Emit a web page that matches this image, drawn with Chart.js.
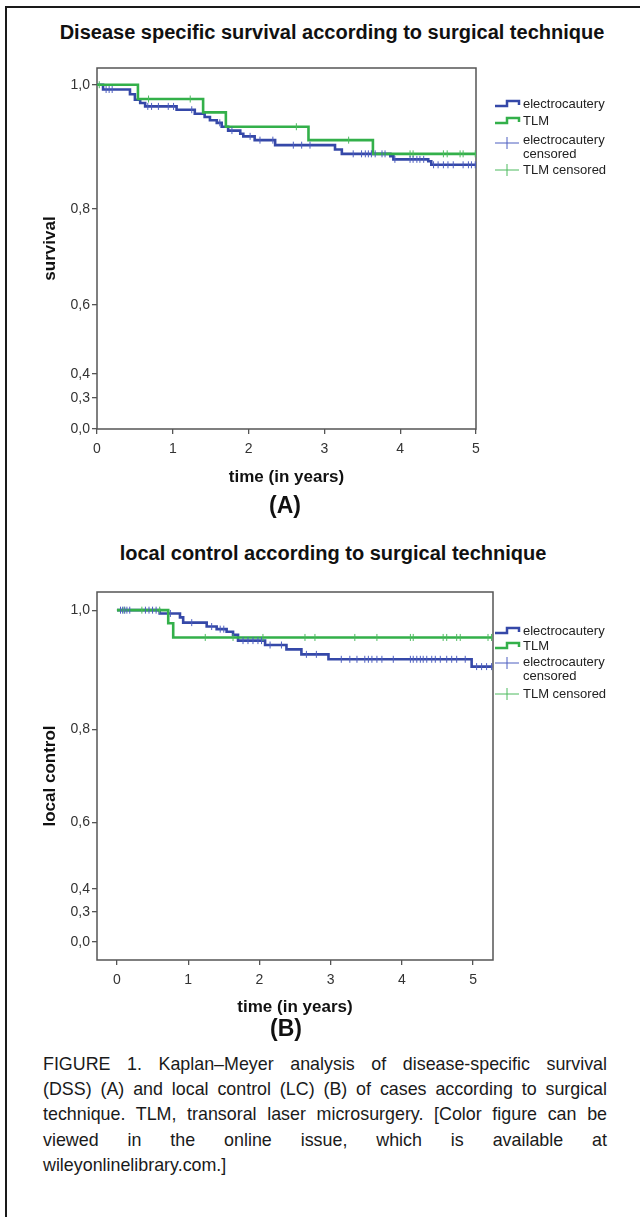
<!DOCTYPE html>
<html>
<head>
<meta charset="utf-8">
<script src="https://cdn.jsdelivr.net/npm/chart.js@4.4.1/dist/chart.umd.min.js"></script>
<style>
  html, body { margin: 0; padding: 0; background: #fff; }
  body { width: 640px; height: 1217px; position: relative; overflow: hidden;
         font-family: "Liberation Sans", Arial, sans-serif; color: #111; }
  .rule-top { position: absolute; left: 5px; top: 6px; width: 635px; height: 2px; background: #1a1a1a; }
  .rule-left { position: absolute; left: 5px; top: 6px; width: 2px; height: 1211px; background: #1a1a1a; }
  .heading { position: absolute; transform: translateX(-50%); white-space: nowrap;
             font-weight: bold; font-size: 20px; line-height: 24px; }
  .panel { position: absolute; transform: translateX(-50%); white-space: nowrap;
           font-weight: bold; font-size: 23px; line-height: 26px; }
  canvas { position: absolute; left: 0; }
  #caption { position: absolute; left: 43px; width: 600px; top: 1051px;
             transform: scaleX(0.94); transform-origin: 0 0;
             font-family: "Liberation Sans", Arial, sans-serif;
             font-size: 19px; line-height: 25.2px; color: #1a1a1a; }
  #caption div { text-align: justify; text-align-last: justify; }
  #caption div:last-child { text-align-last: left; }
</style>
</head>
<body>
<div class="rule-top"></div>
<div class="rule-left"></div>

<div class="heading" style="left:332px; top:20px;">Disease specific survival according to surgical technique</div>
<canvas id="dss" width="607" height="450" style="top:50px;"></canvas>
<div class="panel" style="left:285px; top:492px;">(A)</div>

<div class="heading" style="left:333px; top:541px;">local control according to surgical technique</div>
<canvas id="lc" width="607" height="460" style="top:570px;"></canvas>
<div class="panel" style="left:286px; top:1015px;">(B)</div>

<div id="caption">
  <div>FIGURE 1. Kaplan–Meyer analysis of disease-specific survival</div>
  <div>(DSS) (A) and local control (LC) (B) of cases according to surgical</div>
  <div>technique. TLM, transoral laser microsurgery. [Color figure can be</div>
  <div>viewed in the online issue, which is available at</div>
  <div>wileyonlinelibrary.com.]</div>
</div>

<script>
// ---- data (time in years) ----
const xTicks = [0, 1, 2, 3, 4, 5];
const yTicks = [0, 0.3, 0.4, 0.6, 0.8, 1.0];

// (A) disease specific survival
const dssElectroTime = [0, 0.08, 0.435, 0.50, 0.57, 0.635, 1.05, 1.29, 1.42, 1.49, 1.58, 1.645, 1.73, 1.89, 1.93, 2.08, 2.35, 3.14, 3.23, 3.87, 3.91, 4.37, 4.41, 5.0];
const dssElectroSurv = [1.0, 0.993, 0.986, 0.978, 0.973, 0.968, 0.963, 0.957, 0.952, 0.947, 0.943, 0.937, 0.931, 0.926, 0.922, 0.916, 0.908, 0.901, 0.894, 0.890, 0.885, 0.882, 0.876, 0.876];
const dssElectroCensored = [0.12, 0.16, 0.20, 0.67, 0.72, 0.81, 0.94, 1.01, 1.25, 1.62, 1.78, 2.02, 2.15, 2.32, 2.59, 2.70, 2.81,
  3.38, 3.49, 3.54, 3.58, 3.62, 3.67, 3.76, 3.80, 3.93, 4.13, 4.17, 4.22, 4.26, 4.31, 4.44, 4.50, 4.57, 4.63, 4.70, 4.83, 4.90, 4.94, 4.99];
const dssTlmTime = [0, 0.54, 1.40, 1.70, 2.79, 3.64, 5.0];
const dssTlmSurv = [1.0, 0.979, 0.959, 0.937, 0.916, 0.894, 0.894];
const dssTlmCensored = [0.03, 0.68, 1.23, 2.63, 3.32, 4.13, 4.17, 4.57, 4.62, 4.79, 4.83, 4.99];

// (B) local control
const lcElectroTime = [0, 0.60, 0.885, 0.93, 1.26, 1.40, 1.54, 1.63, 1.70, 2.08, 2.38, 2.59, 2.97, 4.98, 5.27];
const lcElectroCtrl = [1.0, 0.995, 0.989, 0.981, 0.975, 0.971, 0.967, 0.962, 0.953, 0.946, 0.939, 0.931, 0.923, 0.911, 0.911];
const lcElectroCensored = [0.05, 0.08, 0.11, 0.14, 0.18, 0.40, 0.45, 0.50, 0.55, 0.75, 1.05, 1.33, 1.45, 1.50, 1.77, 1.84, 1.91, 1.98, 2.03,
  2.15, 2.31, 2.66, 2.80, 3.15, 3.27, 3.37, 3.48, 3.53, 3.58, 3.65, 3.72, 3.88, 4.12, 4.16, 4.21, 4.26, 4.30, 4.35, 4.42, 4.47,
  4.54, 4.63, 4.70, 4.77, 4.89, 5.05, 5.12, 5.19, 5.26];
const lcTlmTime = [0, 0.72, 0.79, 5.27];
const lcTlmCtrl = [1.0, 0.980, 0.958, 0.958];
const lcTlmCensored = [0.10, 0.35, 0.60, 1.24, 1.63, 2.05, 2.64, 2.78, 3.34, 3.65, 4.12, 4.16, 4.58, 4.63, 4.77, 4.82, 5.21, 5.26];

const BLUE = '#3548a8', BLUE_TICK = '#4d5ec0';
const GREEN = '#33b04a', GREEN_TICK = '#4cba5e';
const FONT = '"Liberation Sans", Arial, sans-serif';

// SPSS-style axis: pixel distance grows with the square of the value
class SquareScale extends Chart.LinearScale {
  sq(v) { return v < 0 ? -v * v : v * v; }
  getPixelForValue(value) {
    if (value === null || isNaN(value)) return NaN;
    const a = this.sq(this.min), b = this.sq(this.max);
    return this.getPixelForDecimal((this.sq(value) - a) / (b - a));
  }
  getValueForPixel(pixel) {
    const a = this.sq(this.min), b = this.sq(this.max);
    const t = a + this.getDecimalForPixel(pixel) * (b - a);
    return t < 0 ? -Math.sqrt(-t) : Math.sqrt(t);
  }
}
SquareScale.id = 'square';
SquareScale.defaults = {};
Chart.register(SquareScale);

function steps(times, vals) {
  return times.map((t, i) => ({ x: t, y: vals[i] }));
}
// a censored case sits on the curve at the level in force at its time
function onCurve(censored, times, vals) {
  return censored.map(t => {
    let k = 0;
    while (k + 1 < times.length && times[k + 1] <= t) k++;
    return { x: t, y: vals[k] };
  });
}

const plotFrame = {
  id: 'plotFrame',
  beforeDatasetsDraw(chart) {
    const { ctx, chartArea: a } = chart;
    ctx.save();
    ctx.strokeStyle = '#555';
    ctx.lineWidth = 1.5;
    ctx.strokeRect(a.left, a.top, a.right - a.left, a.bottom - a.top);
    ctx.restore();
  }
};

const kmLegend = {
  id: 'kmLegend',
  afterDraw(chart, args, opts) {
    const { ctx, chartArea } = chart;
    const x0 = chartArea.right + opts.dx;
    ctx.save();
    ctx.font = '13px ' + FONT;
    ctx.textBaseline = 'middle';
    opts.items.forEach(item => {
      const y = chartArea.top + item.dy;
      ctx.beginPath();
      ctx.strokeStyle = item.color;
      if (item.kind === 'step') {
        ctx.lineWidth = 2.5;
        ctx.moveTo(x0, y + 2); ctx.lineTo(x0 + 12, y + 2);
        ctx.lineTo(x0 + 12, y - 3); ctx.lineTo(x0 + 24, y - 3);
        ctx.lineTo(x0 + 24, y + 1);
      } else {
        const cy = y + item.markDy;
        ctx.lineWidth = 1;
        ctx.moveTo(x0, cy); ctx.lineTo(x0 + 24, cy);
        ctx.moveTo(x0 + 12, cy - 6); ctx.lineTo(x0 + 12, cy + 6);
      }
      ctx.stroke();
      ctx.fillStyle = '#222';
      item.text.forEach((t, i) => ctx.fillText(t, x0 + 28, y + i * 14.5));
    });
    ctx.restore();
  }
};

function makeKM(id, c) {
  return new Chart(document.getElementById(id), {
    type: 'scatter',
    data: {
      datasets: [
        { label: 'electrocautery', data: steps(c.eT, c.eV), showLine: true, stepped: 'before',
          borderColor: BLUE, borderWidth: 2.6, pointRadius: 0, order: 2 },
        { label: 'TLM', data: steps(c.tT, c.tV), showLine: true, stepped: 'before',
          borderColor: GREEN, borderWidth: 2.6, pointRadius: 0, order: 1 },
        { label: 'electrocautery censored', data: onCurve(c.eC, c.eT, c.eV), showLine: false,
          pointStyle: 'line', rotation: 90, pointRadius: 3.5, borderWidth: 1, borderColor: BLUE_TICK, order: 0 },
        { label: 'TLM censored', data: onCurve(c.tC, c.tT, c.tV), showLine: false,
          pointStyle: 'line', rotation: 90, pointRadius: 3.5, borderWidth: 1, borderColor: GREEN_TICK, order: 0 }
      ]
    },
    options: {
      responsive: false,
      animation: false,
      layout: { padding: c.padding },
      plugins: {
        legend: { display: false },
        tooltip: { enabled: false },
        kmLegend: { dx: c.legendDx, items: c.legend }
      },
      scales: {
        x: {
          type: 'linear', min: c.xMin, max: c.xMax,
          afterBuildTicks: s => { s.ticks = xTicks.map(v => ({ value: v })); },
          afterFit: s => { s.height = 60; },
          border: { display: false },
          grid: { drawOnChartArea: false, drawTicks: true, tickLength: 5, color: '#555', lineWidth: 1.3 },
          ticks: { color: '#333', padding: 7, font: { family: FONT, size: 14 }, callback: v => String(v) },
          title: { display: true, text: 'time (in years)', color: '#111',
                   font: { family: FONT, size: 17, weight: 'bold' }, padding: { bottom: c.xTitlePad } }
        },
        y: {
          type: 'square', min: c.yMin, max: c.yMax,
          afterBuildTicks: s => { s.ticks = yTicks.map(v => ({ value: v })); },
          afterFit: s => { s.width = 97; },
          border: { display: false },
          grid: { drawOnChartArea: false, drawTicks: true, tickLength: 5, color: '#555', lineWidth: 1.3 },
          ticks: { color: '#333', padding: 2, font: { family: FONT, size: 14 },
                   callback: v => v.toFixed(1).replace('.', ',') },
          title: { display: true, text: c.yTitle, color: '#111',
                   font: { family: FONT, size: 17, weight: 'bold' }, padding: { top: 40 } }
        }
      }
    },
    plugins: [plotFrame, kmLegend]
  });
}

makeKM('dss', {
  eT: dssElectroTime, eV: dssElectroSurv, eC: dssElectroCensored,
  tT: dssTlmTime, tV: dssTlmSurv, tC: dssTlmCensored,
  xMin: 0, xMax: 5, yMin: 0, yMax: 1.024,
  yTitle: 'survival', xTitlePad: 1,
  padding: { left: 0, top: 18, right: 131, bottom: 11 },
  legendDx: 19,
  legend: [
    { kind: 'step', color: BLUE, dy: 36, text: ['electrocautery'] },
    { kind: 'step', color: GREEN, dy: 53, text: ['TLM'] },
    { kind: 'mark', color: BLUE_TICK, dy: 72, markDy: 3, text: ['electrocautery', 'censored'] },
    { kind: 'mark', color: GREEN_TICK, dy: 102, markDy: 0, text: ['TLM censored'] }
  ]
});

makeKM('lc', {
  eT: lcElectroTime, eV: lcElectroCtrl, eC: lcElectroCensored,
  tT: lcTlmTime, tV: lcTlmCtrl, tC: lcTlmCensored,
  xMin: -0.28, xMax: 5.28, yMin: -0.233, yMax: 1.027,
  yTitle: 'local control', xTitlePad: 2,
  padding: { left: 0, top: 22, right: 114, bottom: 10 },
  legendDx: 2,
  legend: [
    { kind: 'step', color: BLUE, dy: 39, text: ['electrocautery'] },
    { kind: 'step', color: GREEN, dy: 54, text: ['TLM'] },
    { kind: 'mark', color: BLUE_TICK, dy: 70, markDy: 1, text: ['electrocautery', 'censored'] },
    { kind: 'mark', color: GREEN_TICK, dy: 102, markDy: 0, text: ['TLM censored'] }
  ]
});
</script>
</body>
</html>
